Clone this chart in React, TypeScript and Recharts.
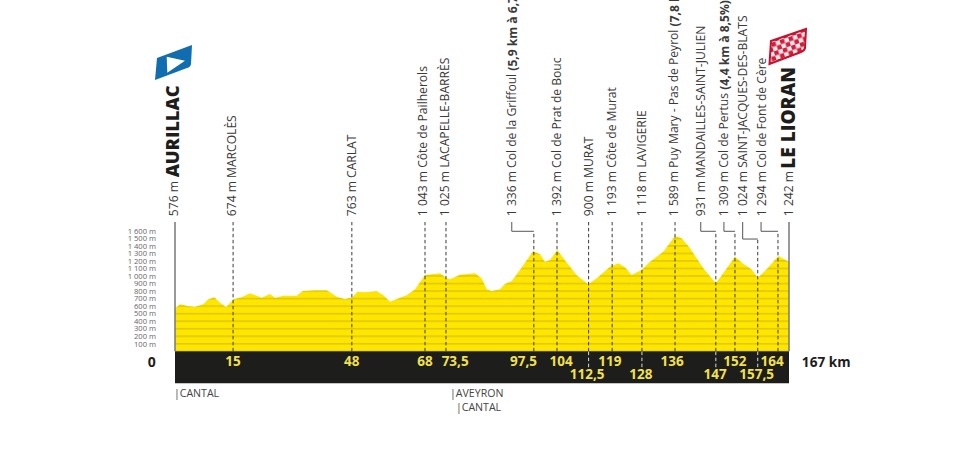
import { Area, AreaChart, ReferenceArea, ReferenceDot, ReferenceLine, XAxis, YAxis } from 'recharts';

// profile
const profileKm = [0, 1.4, 3.2, 5.4, 7.7, 9.1, 10.7, 12.2, 13.9, 15.9, 18.1, 20.4, 23.6, 25.8, 27.2, 29.5, 33.1, 34.7, 38.1, 41.3, 44, 46.2, 48.2, 49.6, 51.7, 54.9, 56.6, 58.5, 60.3, 63, 65.3, 68, 72.1, 73.9, 74.8, 77.5, 81.6, 83.4, 84.8, 86.1, 88.4, 89.7, 91.6, 93.8, 97.4, 99.3, 100.6, 102, 104, 106, 109.2, 112.4, 114.7, 118.3, 120.6, 122.4, 124.2, 126.9, 129.2, 132.8, 136, 137.8, 140.1, 143.7, 147.1, 149.1, 152.3, 154.6, 156.8, 158.5, 160.9, 164.1, 167];
const profileElevation = [571, 624, 606, 593, 624, 690, 717, 650, 588, 690, 717, 770, 712, 760, 712, 738, 738, 800, 810, 810, 725, 694, 717, 790, 783, 797, 747, 659, 694, 744, 823, 1013, 1036, 969, 956, 1017, 1036, 969, 823, 800, 823, 894, 934, 1080, 1332, 1288, 1190, 1212, 1345, 1212, 1013, 890, 969, 1123, 1169, 1115, 1013, 1080, 1190, 1323, 1531, 1500, 1368, 1102, 903, 1036, 1256, 1159, 1089, 977, 1089, 1266, 1190];

const elevationTicks = [100, 200, 300, 400, 500, 600, 700, 800, 900, 1000, 1100, 1200, 1300, 1400, 1500, 1600];

// rotated place labels
const placeKm = [-0.5, 15.5, 47.9, 67.4, 73.4, 91.6, 103.8, 112.5, 118.8, 126.9, 135.7, 143, 149.3, 154.4, 159.4, 167];
const placeNames = ['576 m', '674 m MARCOLÈS', '763 m CARLAT', '1 043 m Côte de Pailherols', '1 025 m LACAPELLE-BARRÈS', '1 336 m Col de la Griffoul ', '1 392 m Col de Prat de Bouc', '900 m MURAT', '1 193 m Côte de Murat', '1 118 m LAVIGERIE', '1 589 m Puy Mary - Pas de Peyrol ', '931 m MANDAILLES-SAINT-JULIEN', '1 309 m Col de Pertus ', '1 024 m SAINT-JACQUES-DES-BLATS', '1 294 m Col de Font de Cère', '1 242 m'];
const placeClimbs = ['', '', '', '', '', '(5,9 km à 6,7 %)', '', '', '', '', '(7,8 km à 8,1 %)', '', '(4,4 km à 8,5%)', '', '', ''];

// dashed markers dropping into the profile
const markerKm = [15.8, 48.1, 68, 73.7, 97.6, 103.9, 112.5, 118.9, 127, 136, 147.1, 152.3, 158.5, 164];
const bandMarkerKm = [112.5, 127, 147.1, 158.5];

// elbows: label km, marker km, elevation of the horizontal part
const elbowFrom = [91.6, 143, 149.3, 154.4, 159.4];
const elbowTo = [97.6, 147.1, 152.3, 158.5, 164];
const elbowLevel = [1594, 1594, 1594, 1491, 1594];

// km numbers in the black band
const upperKmLabels = ['15', '48', '68', '73,5', '97,5', '104', '119', '136', '152', '164'];
const upperKmPos = [15.8, 48.1, 68, 76.2, 94.8, 105, 118.3, 135.2, 152.3, 162.4];
const lowerKmLabels = ['112,5', '128', '147', '157,5'];
const lowerKmPos = [112.1, 126.7, 146.9, 158.2];

const regionLabels = ['|CANTAL', '|AVEYRON', '|CANTAL'];
const regionKm = [-0.3, 74.8, 76.4];
const regionLevel = [-554, -554, -740];

const data = profileKm.map((km, i) => ({ km, elevation: profileElevation[i] }));

const FONT = '"Open Sans", sans-serif';
const LABEL_TOP = 1795;
const DASH_TOP = 1717;

function formatElevation(v: number) {
  return v >= 1000 ? `${Math.floor(v / 1000)} ${String(v % 1000).padStart(3, '0')} m` : `${v} m`;
}

function note(text: string, size: number, fill: string, weight = 400, anchor = 'middle') {
  return (p: any) => (
    <text x={p.cx} y={p.cy} fontFamily={FONT} fontSize={size} fontWeight={weight} fill={fill} textAnchor={anchor} dominantBaseline="central">
      {text}
    </text>
  );
}

function upright(text: string, bold: string, size: number, fill: string, weight = 400) {
  return (p: any) => (
    <text
      x={p.cx}
      y={p.cy}
      transform={`rotate(-90 ${p.cx} ${p.cy})`}
      fontFamily={FONT}
      fontSize={size}
      fontWeight={weight}
      fill={fill}
      dominantBaseline="central"
    >
      {text}
      {bold && <tspan fontWeight={700}>{bold}</tspan>}
    </text>
  );
}

export default function App() {
  return (
    <div style={{ position: 'absolute', left: 0, top: 0, width: 980, height: 450, background: '#fff' }}>
      <AreaChart width={980} height={450} data={data} margin={{ top: 223.3, right: 191, bottom: 38.4, left: 0 }}>
        <defs>
          <pattern id="stripes" patternUnits="userSpaceOnUse" width={10} height={7.53} y={350.5}>
            <rect width={10} height={7.53} fill="#FFE600" />
            <rect width={10} height={1.6} fill="#E0C800" />
          </pattern>
          <pattern id="checks" patternUnits="userSpaceOnUse" width={9} height={9} patternTransform="rotate(-18)">
            <rect width={9} height={9} fill="#fbeaec" />
            <rect width={4.5} height={4.5} fill="#cf1f3c" />
            <rect x={4.5} y={4.5} width={4.5} height={4.5} fill="#cf1f3c" />
          </pattern>
        </defs>
        <XAxis dataKey="km" type="number" domain={[0, 167]} hide />
        <YAxis
          type="number"
          domain={[-800, 1700]}
          ticks={elevationTicks}
          width={175}
          axisLine={false}
          tickLine={false}
          tickSize={0}
          tickMargin={19}
          interval={0}
          tickFormatter={formatElevation}
          tick={{ fontFamily: FONT, fontSize: 7.6, fill: '#666' }}
        />
        <Area dataKey="elevation" type="linear" baseValue={0} stroke="none" fill="url(#stripes)" fillOpacity={1} isAnimationActive={false} dot={false} activeDot={false} />
        <ReferenceArea x1={0} x2={167} y1={-425} y2={0} fill="#1D1D1B" fillOpacity={1} stroke="none" ifOverflow="visible" />

        <ReferenceLine segment={[{ x: 0, y: 0 }, { x: 0, y: DASH_TOP }]} stroke="#777" strokeWidth={1.5} ifOverflow="visible" />
        <ReferenceLine segment={[{ x: 167, y: 0 }, { x: 167, y: DASH_TOP }]} stroke="#777" strokeWidth={1.5} ifOverflow="visible" />

        {markerKm.map((km) => {
          const e = elbowTo.indexOf(km);
          return (
            <ReferenceLine key={km} segment={[{ x: km, y: 0 }, { x: km, y: e >= 0 ? elbowLevel[e] : DASH_TOP }]} stroke="#3a3a3a" strokeWidth={1} strokeDasharray="3.5 2.5" ifOverflow="visible" />
          );
        })}
        {bandMarkerKm.map((km) => (
          <ReferenceLine key={km} segment={[{ x: km, y: -210 }, { x: km, y: 0 }]} stroke="#ddd" strokeWidth={1} strokeDasharray="3.5 2.5" ifOverflow="visible" />
        ))}
        {elbowFrom.map((km, i) => (
          <ReferenceLine key={km} segment={[{ x: km, y: DASH_TOP }, { x: km, y: elbowLevel[i] }]} stroke="#555" strokeWidth={1} ifOverflow="visible" />
        ))}
        {elbowFrom.map((km, i) => (
          <ReferenceLine key={km} segment={[{ x: km, y: elbowLevel[i] }, { x: elbowTo[i], y: elbowLevel[i] }]} stroke="#555" strokeWidth={1} ifOverflow="visible" />
        ))}

        {placeKm.map((km, i) => (
          <ReferenceDot key={km} x={km} y={LABEL_TOP} r={0} ifOverflow="visible" shape={upright(placeNames[i], placeClimbs[i], 12.1, '#3a3a3a')} />
        ))}
        <ReferenceDot x={-0.7} y={2310} r={0} ifOverflow="visible" shape={upright('AURILLAC', '', 18.2, '#1D1D1B', 800)} />
        <ReferenceDot x={166.6} y={2425} r={0} ifOverflow="visible" shape={upright('LE LIORAN', '', 19, '#1D1D1B', 800)} />

        {upperKmLabels.map((t, i) => (
          <ReferenceDot key={t} x={upperKmPos[i]} y={-130} r={0} ifOverflow="visible" shape={note(t, 13.5, '#F2E14C', 700)} />
        ))}
        {lowerKmLabels.map((t, i) => (
          <ReferenceDot key={t} x={lowerKmPos[i]} y={-305} r={0} ifOverflow="visible" shape={note(t, 13.5, '#F2E14C', 700)} />
        ))}
        <ReferenceDot x={-6.3} y={-140} r={0} ifOverflow="visible" shape={note('0', 14, '#1D1D1B', 700)} />
        <ReferenceDot x={170.5} y={-130} r={0} ifOverflow="visible" shape={note('167 km', 13.6, '#1D1D1B', 700, 'start')} />
        {regionLabels.map((t, i) => (
          <ReferenceDot key={i} x={regionKm[i]} y={regionLevel[i]} r={0} ifOverflow="visible" shape={note(t, 10.6, '#444', 400, 'start')} />
        ))}

        {/* start and finish flags */}
        <path d="M157 58 L192 45 L191 64 Q190.500 67 187 68 L155 80 Z" fill="#0F6DB0" />
        <path d="M166.700 56.700 L185 60.700 L167.300 72.700 Z" fill="#fff" />
        <path d="M771 41 L806 29 L805 48 Q804.500 50.500 801 52 L769.500 64 Z" fill="url(#checks)" stroke="#C8102E" strokeWidth={2} />
      </AreaChart>
    </div>
  );
}
